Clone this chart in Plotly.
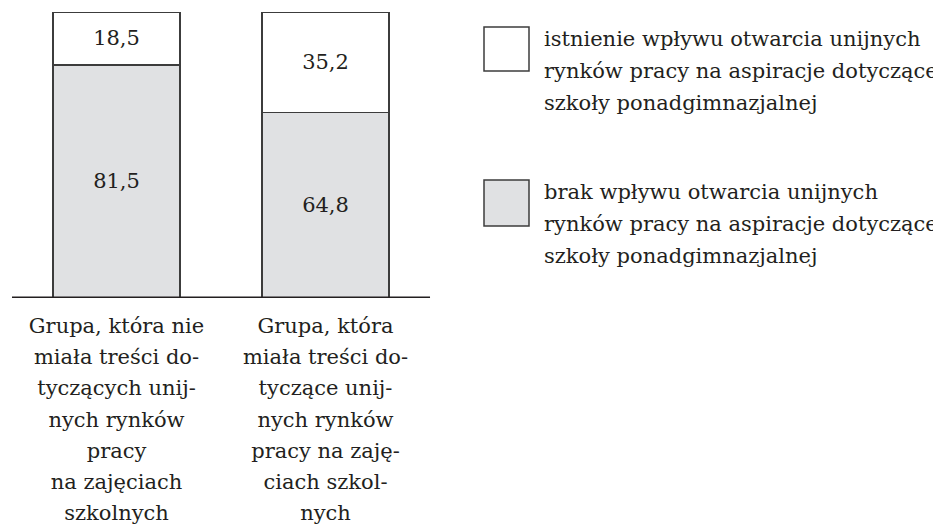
import plotly.graph_objects as go

groups = [
    "Grupa, która nie<br>miała treści do-<br>tyczących unij-<br>nych rynków<br>pracy<br>na zajęciach<br>szkolnych",
    "Grupa, która<br>miała treści do-<br>tyczące unij-<br>nych rynków<br>pracy na zaję-<br>ciach szkol-<br>nych",
]
series_names = [
    "brak wpływu otwarcia unijnych<br>rynków pracy na aspiracje dotyczące<br>szkoły ponadgimnazjalnej",
    "istnienie wpływu otwarcia unijnych<br>rynków pracy na aspiracje dotyczące<br>szkoły ponadgimnazjalnej",
]
brak = [81.5, 64.8]
istnienie = [18.5, 35.2]

FONT = "DejaVu Serif"  # only serif face that the browser picks up
INK = "#231f20"
EDGE = "#3c3c3c"
GRAY = "#e0e1e3"

def pl(v):
    return f"{v:.1f}".replace(".", ",")

def small(txt, px=21):
    # glyphs smaller than the line pitch (DejaVu is wider than Times)
    return "<br>".join(f'<span style="font-size:{px}px">{s}</span>' for s in txt.split("<br>"))

xs = list(range(len(groups)))
fig = go.Figure()
for vals, name, col in [(brak, series_names[0], GRAY), (istnienie, series_names[1], "white")]:
    fig.add_trace(go.Bar(
        x=xs, y=vals, name=name, width=0.6077,
        marker=dict(color=col, line=dict(color=EDGE, width=1.5)),
        text=[pl(v) for v in vals], textposition="inside",
        insidetextanchor="middle", textangle=0, constraintext="none",
        textfont=dict(family=FONT, size=21, color=INK),
        showlegend=False,
    ))

# baseline
fig.add_shape(type="line", x0=-0.5, x1=1.5, y0=0, y1=0,
              line=dict(color=INK, width=3), layer="above")

# page body has an 8px margin, so figure px = reference px - 8
legend_items = [(series_names[1], "white", 27, 71), (series_names[0], GRAY, 180, 226)]
for name, col, top, bot in legend_items:
    fig.add_shape(type="rect", xref="paper", yref="paper",
                  x0=476 / 941, x1=521 / 941,
                  y0=(298 - bot) / 286, y1=(298 - top) / 286,
                  fillcolor=col, line=dict(color=EDGE, width=1.5))
    fig.add_annotation(xref="paper", yref="paper", x=534 / 941, y=(298 - top + 2) / 286,
                       xanchor="left", yanchor="top", align="left", showarrow=False,
                       text=small(name), font=dict(family=FONT, size=24.6, color=INK))

fig.update_layout(
    width=941, height=527, barmode="stack",
    margin=dict(l=0, r=0, t=4, b=237),
    plot_bgcolor="white", paper_bgcolor="white",
    xaxis=dict(range=[-0.5191, 3.983], tickvals=xs, ticktext=[small(g) for g in groups],
               showgrid=False, zeroline=False, showline=False, ticks="",
               automargin=False, ticklabelstandoff=10,
               tickfont=dict(family=FONT, size=24, color=INK), tickangle=0),
    yaxis=dict(range=[0, 100], visible=False, automargin=False),
)
fig.write_html("out.html")
